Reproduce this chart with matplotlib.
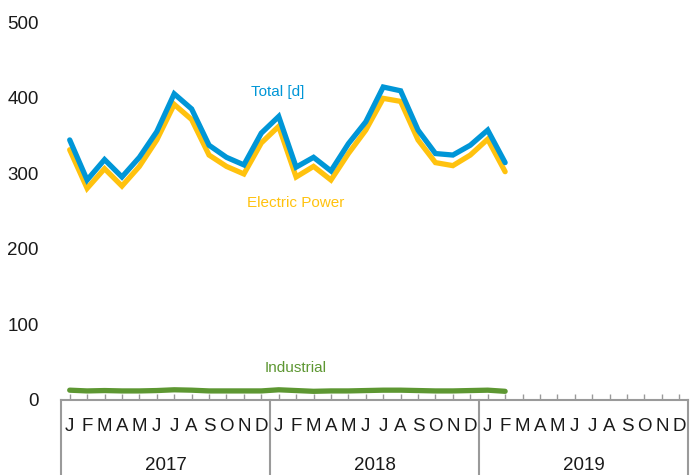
import matplotlib
matplotlib.use("Agg")
import matplotlib.pyplot as plt
import matplotlib.transforms as mtransforms

plt.rcParams['font.family'] = ['Liberation Sans', 'DejaVu Sans']

months = ["J", "F", "M", "A", "M", "J", "J", "A", "S", "O", "N", "D"]
years = ["2017", "2018", "2019"]

total = [344, 291, 318, 295, 321, 355, 405, 385, 337, 321, 311, 353,
         375, 308, 321, 303, 339, 368, 414, 409, 357, 326, 324, 337,
         357, 314]
electric = [331, 280, 306, 283, 309, 344, 391, 371, 324, 309, 299, 340,
            362, 295, 309, 291, 326, 357, 399, 395, 344, 314, 310, 324,
            345, 302]
industrial = [13, 12, 12.5, 12, 12, 12.5, 13.5, 13, 12, 12, 12, 12,
              13.5, 12.5, 11.5, 12, 12, 12.5, 13, 13, 12.5, 12, 12, 12.5,
              13, 11.5]

c_total = "#0096D7"
c_elec = "#FFC20E"
c_ind = "#5D9732"
gray = "#9A9A9A"

fig = plt.figure(figsize=(6.96, 4.75), dpi=100)
ax = fig.add_axes([61/696, 75/475, 627/696, 378/475])

n_months = len(months) * len(years)
x = [i + 0.5 for i in range(len(total))]

ax.plot(x, industrial, color=c_ind, lw=3.8, solid_capstyle='round', solid_joinstyle='round')
ax.plot(x, electric, color=c_elec, lw=3.8, solid_capstyle='round', solid_joinstyle='miter')
ax.plot(x, total, color=c_total, lw=3.8, solid_capstyle='round', solid_joinstyle='miter')

ax.text(12.46, 407, "Total [d]", color=c_total, fontsize=11, ha='center', va='center')
ax.text(13.49, 261, "Electric Power", color=c_elec, fontsize=11, ha='center', va='center')
ax.text(13.49, 42, "Industrial", color=c_ind, fontsize=11, ha='center', va='center')

ax.set_xlim(0, n_months)
ax.set_ylim(0, 500)
ax.set_yticks([0, 100, 200, 300, 400, 500])
ax.tick_params(axis='y', length=0, pad=16, labelsize=13.5, labelcolor='#1a1a1a')

ax.set_xticks([i + 0.5 for i in range(n_months)])
ax.set_xticklabels(months * len(years))
ax.tick_params(axis='x', direction='in', length=4, width=1, color=gray,
               pad=13, labelsize=13.5, labelcolor='#1a1a1a')

for s in ['top', 'right', 'left']:
    ax.spines[s].set_visible(False)
ax.spines['bottom'].set_color(gray)
ax.spines['bottom'].set_linewidth(1.5)

trans = mtransforms.blended_transform_factory(ax.transData, ax.transAxes)
for k in range(len(years) + 1):
    xb = k * 12
    ax.plot([xb, xb], [0, -0.25], transform=trans, color=gray, lw=1.5,
            clip_on=False)
for k, yr in enumerate(years):
    ax.text(k * 12 + 6, -0.174, yr, transform=trans, ha='center', va='center',
            fontsize=13.5, color='#1a1a1a')

fig.savefig("out.png", dpi=100)
